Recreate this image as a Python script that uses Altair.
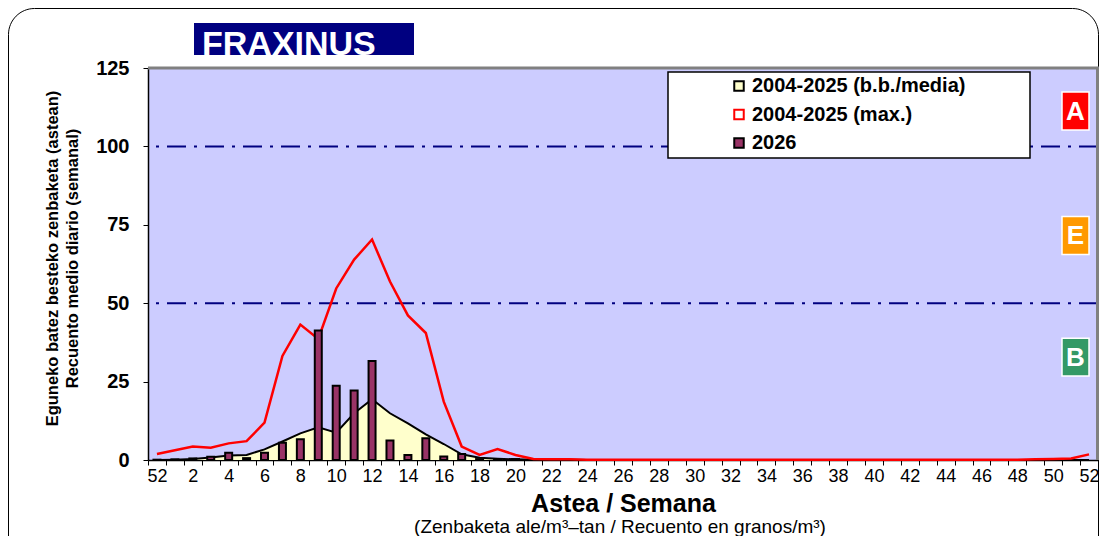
import altair as alt
import pandas as pd

# ---------------- data ----------------
week_labels = ["52", "1", "2", "3", "4", "5", "6", "7", "8", "9", "10", "11", "12", "13", "14",
               "15", "16", "17", "18", "19", "20", "21", "22", "23", "24", "25", "26", "27", "28",
               "29", "30", "31", "32", "33", "34", "35", "36", "37", "38", "39", "40", "41", "42",
               "43", "44", "45", "46", "47", "48", "49", "50", "51", "52"]

mean_vals = [0.0, 0.1, 0.3, 0.8, 1.4, 1.6, 3.4, 5.9, 8.5, 10.4, 8.7, 14.9, 19.4, 14.9, 11.7,
             8.2, 5.1, 1.8, 0.7, 0.4, 0.2, 0.1, 0.05, 0.05, 0.0, 0.0, 0.0, 0.0, 0.0,
             0.0, 0.0, 0.0, 0.0, 0.0, 0.0, 0.0, 0.0, 0.0, 0.0, 0.0, 0.0, 0.0, 0.0,
             0.0, 0.0, 0.0, 0.0, 0.0, 0.0, 0.0, 0.0, 0.0, 0.0]

max_vals = [1.9, 3.1, 4.3, 3.9, 5.3, 6.0, 11.9, 33.2, 43.2, 38.6, 54.7, 63.9, 70.3, 56.9, 46.1,
            40.5, 18.6, 4.3, 1.6, 3.5, 1.6, 0.3, 0.2, 0.2, 0.1, 0.1, 0.1, 0.1, 0.1,
            0.1, 0.1, 0.1, 0.1, 0.1, 0.1, 0.1, 0.1, 0.1, 0.1, 0.1, 0.1, 0.1, 0.1,
            0.1, 0.1, 0.1, 0.1, 0.1, 0.1, 0.2, 0.3, 0.5, 1.8]

y2026_vals = [0.1, 0.2, 0.5, 1.0, 2.3, 0.6, 2.3, 5.5, 6.6, 41.3, 23.7, 22.2, 31.6, 6.2, 1.6,
              6.9, 1.1, 1.9, 0.3, 0.1, 0.3]

series_names = ["2004-2025 (b.b./media)", "2004-2025 (max.)", "2026"]
series_fills = ["#FFFFCC", "#FFFFFF", "#993366"]
series_strokes = ["#000000", "#FF0000", "#000000"]

thresholds = [50, 100]
y_ticks = [0, 25, 50, 75, 100, 125]

zone_letters = ["A", "E", "B"]
zone_colors = ["#FF0000", "#FF9900", "#339966"]
zone_centers = [111.3, 71.6, 32.8]

title_text = "FRAXINUS"
x_title = "Astea / Semana"
x_subtitle = "(Zenbaketa ale/m³–tan / Recuento en granos/m³)"
y_title = ["Eguneko batez besteko zenbaketa (astean)", "Recuento medio diario (semanal)"]

# ---------------- tables ----------------
n = len(week_labels)
df = pd.DataFrame({
    "i": list(range(n)),
    "mean": mean_vals,
    "max": max_vals,
})
bars = pd.DataFrame({
    "i": list(range(len(y2026_vals))),
    "v": y2026_vals,
    "series": ["2026"] * len(y2026_vals),
})
thr = pd.DataFrame({"t": thresholds})
zones = pd.DataFrame({
    "letter": zone_letters,
    "color": zone_colors,
    "c": zone_centers,
    "lo": [c - 6.05 for c in zone_centers],
    "hi": [c + 6.05 for c in zone_centers],
})
one = pd.DataFrame({"a": [0]})

W, H = 950, 392
FONT = "Liberation Sans"

labels_js = "[" + ",".join("'" + l + "'" for l in week_labels) + "]"
x_axis = alt.Axis(
    labelExpr="datum.value % 2 == 0 ? " + labels_js + "[datum.value] : ''",
    labelAngle=0, labelFont=FONT, labelFontSize=18, labelColor="black",
    labelPadding=2, tickBand="extent", tickSize=5, tickColor="black",
    domainColor="black", domainWidth=1.5, labelOverlap=False,
    title=x_title, titleFont=FONT, titleFontSize=25, titleFontWeight="bold",
    titleColor="black", titleBaseline="alphabetic", titleY=51,
)
x_enc = alt.X("i:O", axis=x_axis, scale=alt.Scale(paddingInner=0, paddingOuter=0))

y_scale = alt.Scale(domain=[0, 125], nice=False)
y_axis = alt.Axis(
    values=y_ticks, grid=False, labelFont=FONT, labelFontSize=20, labelFontWeight="bold",
    labelColor="black", labelPadding=14, tickSize=5, tickColor="black",
    domainColor="black", domainWidth=1.5,
    title=y_title, titleFont=FONT, titleFontSize=16.5, titleFontWeight="bold",
    titleColor="black", titleLineHeight=20, titleAngle=-90, titleAlign="center",
    titleBaseline="middle", titleX=-96, titleY=190,
)

base = alt.Chart(df)

rules = alt.Chart(thr).mark_rule(color="#000080", strokeWidth=2, strokeDash=[19, 8, 3, 8]).encode(
    y=alt.Y("t:Q", scale=y_scale, axis=y_axis)
)

area = base.mark_area(color="#FFFFCC", opacity=1).encode(
    x=x_enc, y=alt.Y("mean:Q", scale=y_scale)
)
mean_line = base.mark_line(color="black", strokeWidth=2).encode(
    x=x_enc, y=alt.Y("mean:Q", scale=y_scale)
)
max_line = base.mark_line(color="#FF0000", strokeWidth=2.5).encode(
    x=x_enc, y=alt.Y("max:Q", scale=y_scale)
)

legend_common = dict(
    title=None, orient="none", legendX=581, legendY=8, padding=0,
    labelFont=FONT, labelFontSize=20, labelFontWeight="bold", labelColor="black",
    labelLimit=500, symbolType="square", symbolSize=90, symbolStrokeWidth=2,
    rowPadding=8.5, labelOffset=3,
)
bar_layer = alt.Chart(bars).mark_bar(size=7, strokeWidth=2).encode(
    x=x_enc,
    y=alt.Y("v:Q", scale=y_scale),
    fill=alt.Fill("series:N", scale=alt.Scale(domain=series_names, range=series_fills),
                  legend=alt.Legend(**legend_common)),
    stroke=alt.Stroke("series:N", scale=alt.Scale(domain=series_names, range=series_strokes),
                      legend=alt.Legend(**legend_common)),
)

legend_box = alt.Chart(one).mark_rect(fill="white", stroke="black", strokeWidth=1.5).encode(
    x=alt.value(520), x2=alt.value(882), y=alt.value(4), y2=alt.value(90)
)

top_border = alt.Chart(one).mark_rule(color="#808080", strokeWidth=3).encode(
    x=alt.value(0), x2=alt.value(W + 1), y=alt.value(0)
)
right_border = alt.Chart(one).mark_rule(color="#808080", strokeWidth=3).encode(
    x=alt.value(W - 0.5), y=alt.value(0), y2=alt.value(H)
)

zone_rect = alt.Chart(zones).mark_rect(stroke="white", strokeWidth=1.5).encode(
    x=alt.value(914), x2=alt.value(941),
    y=alt.Y("lo:Q", scale=y_scale), y2="hi:Q",
    color=alt.Color("color:N", scale=None),
)
zone_text = alt.Chart(zones).mark_text(
    font=FONT, fontSize=26, fontWeight="bold", color="white", baseline="middle", align="center", dy=1
).encode(
    x=alt.value(927.5), y=alt.Y("c:Q", scale=y_scale), text="letter:N"
)

title_box = alt.Chart(one).mark_rect(fill="#000080").encode(
    x=alt.value(46), x2=alt.value(266), y=alt.value(-45), y2=alt.value(-13)
)
title_mark = alt.Chart(one).mark_text(
    text=title_text, font=FONT, fontSize=34, fontWeight="bold", color="white",
    align="left", baseline="alphabetic"
).encode(x=alt.value(54), y=alt.value(-13))

frame = alt.Chart(one).mark_rect(fill=None, stroke="black", strokeWidth=1, cornerRadius=26).encode(
    x=alt.value(-139.5), x2=alt.value(W + 0.5), y=alt.value(-59.5), y2=alt.value(H + 120)
)

subtitle = alt.Chart(one).mark_text(
    text=x_subtitle, font=FONT, fontSize=19, color="black", align="center", baseline="alphabetic"
).encode(x=alt.value(472), y=alt.value(H + 73))

chart = alt.layer(
    frame, rules, area, mean_line, max_line, bar_layer, top_border, right_border,
    legend_box, zone_rect, zone_text, title_box, title_mark, subtitle
).properties(
    width=W, height=H,
    autosize=alt.AutoSizeParams(type="none"),
    padding={"left": 140, "top": 60, "right": 1, "bottom": 76},
    background="white",
).configure_view(fill="#CCCCFF", stroke=None)

chart.save("out.html", embed_options={"renderer": "svg", "actions": False})
